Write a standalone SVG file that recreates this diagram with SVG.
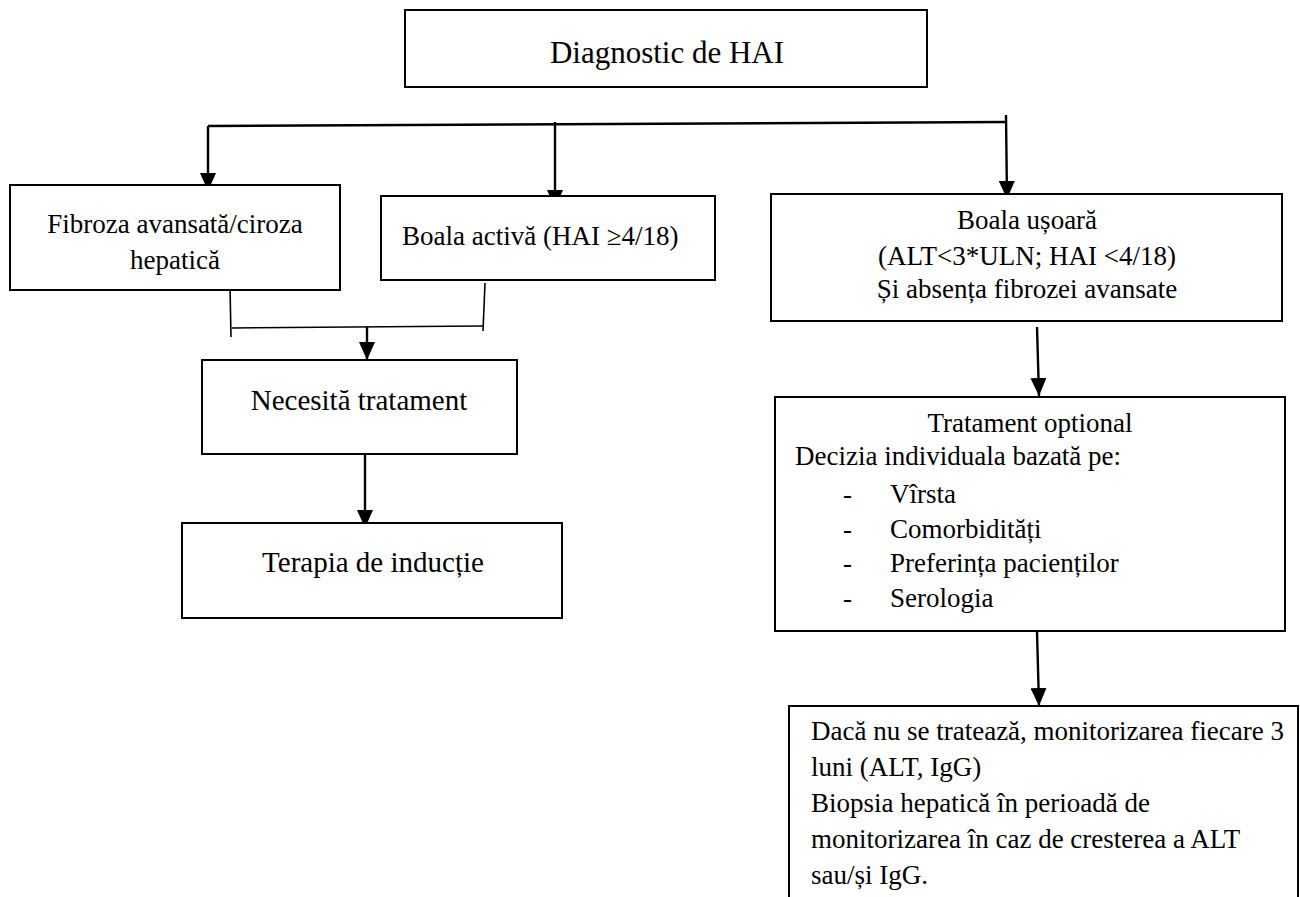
<svg xmlns="http://www.w3.org/2000/svg" width="1300" height="897" viewBox="0 0 1300 897">
<style>
.box{fill:#fff;stroke:#000;stroke-width:2}
.t{font-family:'Liberation Serif','Times New Roman',Tinos,'DejaVu Serif',serif;font-size:27px;fill:#000}
.c{text-anchor:middle}
.big{font-size:29px}
.title{font-size:31px}
.ln{stroke:#000;stroke-width:2.4;fill:none}
.br{stroke:#000;stroke-width:1.6;fill:none}
</style>
<defs>
<marker id="ah" markerUnits="userSpaceOnUse" markerWidth="18" markerHeight="16" refX="18" refY="8" orient="auto">
<path d="M0,0 L18,8 L0,16 z" fill="#000"/>
</marker>
</defs>
<rect width="1300" height="897" fill="#fff"/>
<g id="connectors">
<path class="ln" d="M208,126 L1006,122"/>
<path class="ln" d="M208,126 L208,191" marker-end="url(#ah)"/>
<path class="ln" d="M555,122 L555,208" marker-end="url(#ah)"/>
<path class="ln" d="M1006,115 L1007,199" marker-end="url(#ah)"/>
<path class="br" d="M230,287 L231,337"/>
<path class="br" d="M232,328 L483,326"/>
<path class="br" d="M485,283 L483,331"/>
<path class="ln" d="M367,327 L367,360" marker-end="url(#ah)"/>
<path class="ln" d="M365,450 L365,528" marker-end="url(#ah)"/>
<path class="ln" d="M1037,327 L1039,396" marker-end="url(#ah)"/>
<path class="ln" d="M1037,631 L1039,706" marker-end="url(#ah)"/>
</g>
<g id="n-diagnostic">
<rect class="box" x="405" y="10" width="522" height="77"/>
<text class="t title c" x="667" y="63" font-family="Liberation Serif, serif">Diagnostic de HAI</text>
</g>
<g id="n-fibroza">
<rect class="box" x="10" y="185" width="330" height="105"/>
<text class="t c" x="175" y="233">Fibroza avansată/ciroza</text>
<text class="t c" x="175" y="269">hepatică</text>
</g>
<g id="n-activa">
<rect class="box" x="381" y="196" width="334" height="84"/>
<text class="t" x="402" y="245">Boala activă (HAI ≥4/18)</text>
</g>
<g id="n-usoara">
<rect class="box" x="771" y="194" width="511" height="127"/>
<text class="t c" x="1027" y="229">Boala ușoară</text>
<text class="t c" x="1027" y="265">(ALT&lt;3*ULN; HAI &lt;4/18)</text>
<text class="t c" x="1027" y="298">Și absența fibrozei avansate</text>
</g>
<g id="n-necesita">
<rect class="box" x="202" y="360" width="315" height="94"/>
<text class="t big c" x="359" y="410">Necesită tratament</text>
</g>
<g id="n-terapia">
<rect class="box" x="182" y="523" width="380" height="95"/>
<text class="t big c" x="373" y="572">Terapia de inducție</text>
</g>
<g id="n-optional">
<rect class="box" x="775" y="397" width="510" height="234"/>
<text class="t c" x="1030" y="432">Tratament optional</text>
<text class="t" x="795" y="465">Decizia individuala bazată pe:</text>
<text class="t" x="843" y="503">-</text>
<text class="t" x="890" y="503">Vîrsta</text>
<text class="t" x="843" y="538">-</text>
<text class="t" x="890" y="538">Comorbidități</text>
<text class="t" x="843" y="572">-</text>
<text class="t" x="890" y="572">Preferința pacienților</text>
<text class="t" x="843" y="607">-</text>
<text class="t" x="890" y="607">Serologia</text>
</g>
<g id="n-monitorizare">
<rect class="box" x="789" y="706" width="509" height="220"/>
<text class="t" x="811" y="740">Dacă nu se tratează, monitorizarea fiecare 3</text>
<text class="t" x="811" y="776">luni (ALT, IgG)</text>
<text class="t" x="811" y="812">Biopsia hepatică în perioadă de</text>
<text class="t" x="811" y="848">monitorizarea în caz de cresterea a ALT</text>
<text class="t" x="811" y="884">sau/și IgG.</text>
</g>
</svg>
